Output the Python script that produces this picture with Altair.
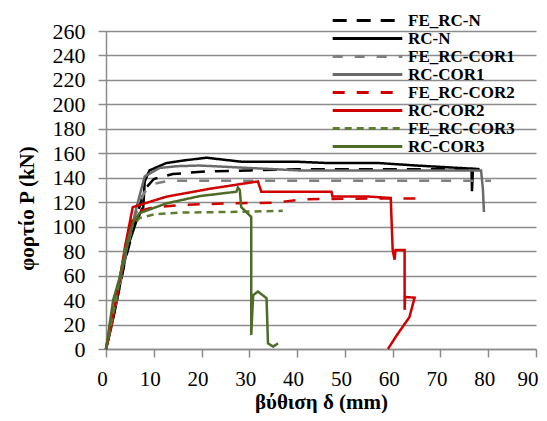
import altair as alt
import pandas as pd

series = ["FE_RC-N", "RC-N", "FE_RC-COR1", "RC-COR1",
          "FE_RC-COR2", "RC-COR2", "FE_RC-COR3", "RC-COR3"]
colors = ["#000000", "#000000", "#808080", "#6a6a6a",
          "#d00000", "#d00000", "#5e7d2f", "#4f6b28"]
dashes = [[14, 10], [1, 0], [10, 12], [1, 0], [12, 12], [1, 0], [7, 5], [1, 0]]

fe_rc_n_x = [0, 2, 4, 6, 7, 8, 10, 14, 20, 30, 40, 50, 60, 70, 77]
fe_rc_n_y = [0, 35, 72, 102, 116, 130, 139, 143, 145, 146, 147, 147, 147, 147, 147]

rc_n_x = [0, 1, 2, 3.6, 4.6, 6.4, 7.4, 7.8, 8.1, 9.1, 12.6, 16, 21, 28.6, 40.5, 46.8, 57.2, 65, 74, 76.5, 76.6, 76.8, 78.2]
rc_n_y = [0, 16, 34, 66, 84, 105, 113, 116, 137, 146, 152, 154, 156.4, 153, 153, 152, 152, 150, 148, 147.5, 129, 147.5, 147]

fe_rc_cor1_x = [0, 2, 4, 6, 8, 10, 13, 20, 40, 60, 80.6]
fe_rc_cor1_y = [0, 35, 75, 108, 128, 135, 137.5, 137.5, 137.5, 137.5, 137.5]

rc_cor1_x = [0, 1, 2, 3, 4.5, 6.4, 8.1, 11.2, 15, 19.6, 30, 40.5, 46.8, 60, 74, 78.5, 78.9, 79.1]
rc_cor1_y = [0, 18, 38, 58, 85, 116, 141, 148, 149.5, 150, 148, 146, 146, 146, 146, 146, 130, 112]

fe_rc_cor2_x = [0, 2, 4, 5.5, 7, 10, 17, 25, 35, 42, 55, 66.5]
fe_rc_cor2_y = [0, 38, 80, 105, 113, 116, 118, 119, 119.6, 122.5, 123, 123]

rc_cor2_x = [0, 1, 2, 3, 4, 5, 5.6, 12.6, 21.7, 31.8, 32.5, 40, 47.2, 47.4, 55, 59.6, 60.0, 60.4, 60.6, 62.5, 62.5, 62.6, 64.6, 63.5, 61, 59]
rc_cor2_y = [0, 18, 38, 60, 84, 104, 116, 124.5, 131, 137, 128.6, 128.6, 128.6, 124.6, 124.6, 123.5, 81, 73, 81, 81, 32, 42.5, 42, 26, 12, 0]

fe_rc_cor3_x = [0, 2, 4, 5.5, 7, 10, 15, 25, 37]
fe_rc_cor3_y = [0, 40, 82, 100, 107, 110, 111.5, 112, 113]

rc_cor3_x = [0, 1.5, 2.9, 4.3, 5.6, 7, 12.6, 19.6, 27.3, 27.6, 28, 28.3, 30.4, 30.4, 30.8, 31.8, 33.6, 33.9, 35, 36]
rc_cor3_y = [0, 40, 59, 84, 103, 111, 119, 125, 128.6, 132, 130, 116, 108, 11.5, 44, 47, 41.5, 4.6, 2, 4.6]

xs = [fe_rc_n_x, rc_n_x, fe_rc_cor1_x, rc_cor1_x, fe_rc_cor2_x, rc_cor2_x, fe_rc_cor3_x, rc_cor3_x]
ys = [fe_rc_n_y, rc_n_y, fe_rc_cor1_y, rc_cor1_y, fe_rc_cor2_y, rc_cor2_y, fe_rc_cor3_y, rc_cor3_y]

rows = []
for s, xv, yv in zip(series, xs, ys):
    for i, (a, b) in enumerate(zip(xv, yv)):
        rows.append({"s": s, "x": a, "y": b, "i": i})
df = pd.DataFrame(rows)

legend_kw = dict(
    title=None, orient="none", legendX=253, legendY=-19,
    symbolType="M-5.8,0H5.8", symbolSize=144, symbolStrokeWidth=3,
    labelFont="Liberation Serif", labelFontSize=17, labelFontWeight="bold",
    labelColor="#000000", labelOffset=32, rowPadding=0, labelLimit=300,
)

grey = "#8c8c8c"

chart = alt.Chart(df).mark_line(strokeWidth=2.5).encode(
    x=alt.X("x:Q", scale=alt.Scale(domain=[0, 90], nice=False),
            axis=alt.Axis(values=list(range(0, 91, 10)), title="βύθιση δ (mm)",
                          grid=False, titleY=59, titleBaseline="alphabetic",
                          labelFontSize=21, labelPadding=11,
                          labelAlign={"condition": {"test": "datum.value == 90", "value": "right"},
                                      "value": "center"},
                          labelOffset={"condition": {"test": "datum.value == 90", "value": 2},
                                       "value": -4})),
    y=alt.Y("y:Q", scale=alt.Scale(domain=[0, 260], nice=False),
            axis=alt.Axis(values=list(range(0, 261, 20)), title="φορτίο P (kN)",
                          grid=True, titleX=-79, titleY=177, titleAngle=270,
                          titleAlign="center", titleBaseline="middle")),
    color=alt.Color("s:N", scale=alt.Scale(domain=series, range=colors),
                    legend=alt.Legend(**legend_kw)),
    strokeDash=alt.StrokeDash("s:N", scale=alt.Scale(domain=series, range=dashes),
                              legend=alt.Legend(**legend_kw)),
    order=alt.Order("i:Q"),
).properties(
    width=430, height=318,
    autosize=alt.AutoSizeParams(type="none"),
    padding={"left": 98, "top": 23, "right": 3, "bottom": 64},
    background="#ffffff",
).configure_view(stroke=None).configure_axis(
    domainColor=grey, domainWidth=1.5, tickColor=grey, tickWidth=1.5, tickSize=8,
    gridColor=grey, gridWidth=1.5, labelFont="Liberation Serif", labelFontSize=22,
    labelColor="#000000", labelPadding=13, titleFont="Liberation Serif",
    titleFontSize=21, titleFontWeight="bold", titleColor="#000000",
)

chart.save("out.html", embed_options={"renderer": "svg", "actions": False})
